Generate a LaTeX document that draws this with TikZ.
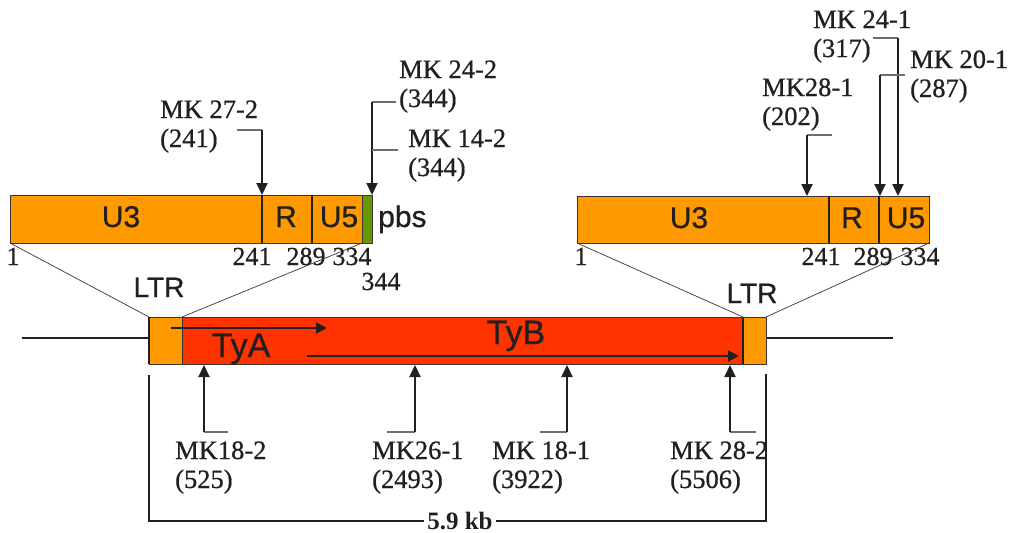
\documentclass[tikz,border=0pt]{standalone}
\usepackage{fontspec}
\setmainfont{Liberation Serif}
\setsansfont{Liberation Sans}
\newfontfamily\mkserif{Liberation Serif}[FakeBold=0.7]
\newfontfamily\mksans{Liberation Sans}[FakeBold=0.7]
\usetikzlibrary{arrows.meta, positioning}

\definecolor{ltrorange}{RGB}{255,153,0}
\definecolor{tyred}{RGB}{255,51,0}
\definecolor{pbsgreen}{RGB}{102,153,0}
\definecolor{ink}{RGB}{35,31,32}

\begin{document}
\begin{tikzpicture}[x = {(1pt,0pt)},
                    y = {(0pt,-1pt)},
                    text = ink,
                    box/.style    = {draw=ink!90, line width=1pt},
                    divide/.style = {draw=ink, line width=2.4pt},
                    fan/.style    = {draw=ink!90, line width=0.7pt},
                    flank/.style  = {draw=ink, line width=2pt},
                    probe/.style  = {draw=ink, line width=2pt, -{Triangle[length=12pt,width=11pt]}},
                    lead/.style   = {draw=ink!65, line width=1.2pt},
                    orf/.style    = {draw=ink, line width=2pt, -{Triangle[length=11pt,width=11pt]}},
                    part/.style   = {font=\mksans\fontsize{30}{32}\selectfont, inner sep=0pt, anchor=base},
                    bpno/.style   = {font=\mkserif\fontsize{26}{28}\selectfont, inner sep=0pt, anchor=base},
                    primer/.style = {font=\mkserif\fontsize{26.5}{29}\selectfont, inner sep=0pt, align=left, anchor=base west}]

    \useasboundingbox (0,0) rectangle (1010,533);

    % LTR, left copy with pbs
    \begin{scope}
        \fill[ltrorange] (10,195) rectangle (362,243);
        \fill[pbsgreen] (362,195) rectangle (372,243);
        \draw[box] (10,195) rectangle (372,243);
        \draw[divide] (262,195) -- (262,243);
        \draw[divide] (312,195) -- (312,243);
        \draw[box] (362,195) -- (362,243);
        \coordinate (ltrA-sw) at (10,243);
        \coordinate (ltrA-se) at (362,243);
        \node[part] (u3A) at (121,227) {U3};
        \node[part] (rA)  at (286,227) {R};
        \node[part] (u5A) at (339,227) {U5};
        \node[part, anchor=base west] (pbs) at (378,227) {pbs};
        \node[bpno] (p1A)   at (13,265)  {1};
        \node[bpno] (p241A) at (252,265) {241};
        \node[bpno] (p289A) at (306,265) {289};
        \node[bpno] (p334A) at (352,265) {334};
        \node[bpno] (p344A) at (381,290) {344};
    \end{scope}

    % LTR, right copy
    \begin{scope}
        \fill[ltrorange] (577,196) rectangle (929,243);
        \draw[box] (577,196) rectangle (929,243);
        \draw[divide] (829,196) -- (829,243);
        \draw[divide] (879,196) -- (879,243);
        \coordinate (ltrB-sw) at (577,243);
        \coordinate (ltrB-se) at (929,243);
        \node[part] (u3B) at (689,228) {U3};
        \node[part] (rB)  at (852,228) {R};
        \node[part] (u5B) at (906,228) {U5};
        \node[bpno] (p1B)   at (581,265) {1};
        \node[bpno] (p241B) at (821,265) {241};
        \node[bpno] (p289B) at (873,265) {289};
        \node[bpno] (p334B) at (920,265) {334};
    \end{scope}

    % element
    \coordinate (flankL) at (22,338);
    \coordinate (flankR) at (893,338);
    \coordinate (eltL) at (149,338);
    \coordinate (eltR) at (766,338);
    \draw[flank] (flankL) -- (eltL);
    \draw[flank] (eltR) -- (flankR);
    \fill[tyred] (182,317) rectangle (743,364);
    \fill[ltrorange] (149,317) rectangle (182,364);
    \fill[ltrorange] (743,317) rectangle (766,364);
    \draw[box] (149,317) rectangle (766,364);
    \draw[box] (182,317) -- (182,364);
    \draw[flank] (149,317) -- (149,364);
    \draw[divide] (743,317) -- (743,364);
    \coordinate (ltr1-nw) at (149,317);
    \coordinate (ltr1-ne) at (182,317);
    \coordinate (ltr2-nw) at (743,317);
    \coordinate (ltr2-ne) at (766,317);

    \draw[fan] (ltrA-sw) -- (ltr1-nw);
    \draw[fan] (ltrA-se) -- (ltr1-ne);
    \draw[fan] (ltrB-sw) -- (ltr2-nw);
    \draw[fan] (ltrB-se) -- (ltr2-ne);
    \node[part, font=\mksans\fontsize{28}{30}\selectfont] (ltr1) at (159,297) {LTR};
    \node[part, font=\mksans\fontsize{28}{30}\selectfont] (ltr2) at (752,303) {LTR};

    \coordinate (tyaS) at (171,328);
    \coordinate (tyaE) at (327,328);
    \coordinate (tybS) at (307,356);
    \coordinate (tybE) at (739,356);
    \draw[orf] (tyaS) -- (tyaE);
    \draw[orf] (tybS) -- (tybE);
    \node[part, font=\mksans\fontsize{34}{36}\selectfont] (tya) at (241,357) {TyA};
    \node[part, font=\mksans\fontsize{34}{36}\selectfont] (tyb) at (516,344) {TyB};

    % primers above (anchored at the second line)
    \node[primer] (mk272) at (160,147) {MK 27-2\\(241)};
    \node[primer] (mk242) at (399,107) {MK 24-2\\(344)};
    \node[primer] (mk142) at (408,176) {MK 14-2\\(344)};
    \node[primer] (mk281) at (762,125) {MK28-1\\(202)};
    \node[primer] (mk241) at (813,57)  {MK 24-1\\(317)};
    \node[primer] (mk201) at (910,97)  {MK 20-1\\(287)};

    \draw[lead] (237,130) -- (262,130);
    \draw[probe] (262,130) -- (262,195);
    \draw[lead] (396,102) -- (372,102);
    \draw[probe] (372,102) -- (372,195);
    \draw[lead] (398,150) -- (372,150);
    \draw[lead] (832,135) -- (807,135);
    \draw[probe] (807,135) -- (807,196);
    \draw[lead] (873,38) -- (898,38);
    \draw[probe] (898,38) -- (898,196);
    \draw[lead] (905,75) -- (880,75);
    \draw[probe] (880,75) -- (880,196);

    % primers below
    \node[primer] (mk182) at (175,488) {MK18-2\\(525)};
    \node[primer] (mk261) at (372,488) {MK26-1\\(2493)};
    \node[primer] (mk181) at (492,488) {MK 18-1\\(3922)};
    \node[primer] (mk282) at (670,488) {MK 28-2\\(5506)};

    \draw[lead] (228,432) -- (204,432);
    \draw[probe] (204,432) -- (204,365);
    \draw[lead] (387,432) -- (415,432);
    \draw[probe] (415,432) -- (415,365);
    \draw[lead] (540,432) -- (567,432);
    \draw[probe] (567,432) -- (567,365);
    \draw[lead] (756,432) -- (730,432);
    \draw[probe] (730,432) -- (730,365);

    % size bracket
    \node[font=\bfseries\fontsize{25}{27}\selectfont, inner sep=3pt] (size) at (460,521) {5.9 kb};
    \draw[flank] (149,375) |- (size.west);
    \draw[flank] (size.east) -| (766,374);
\end{tikzpicture}
\end{document}
